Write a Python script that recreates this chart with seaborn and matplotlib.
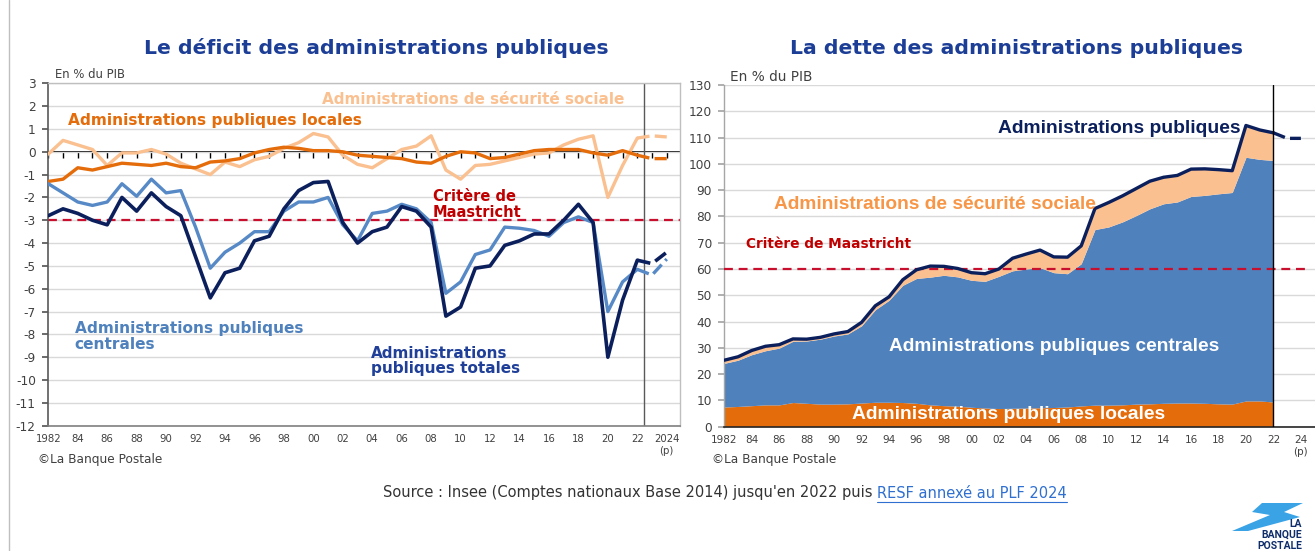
import numpy as np
import pandas as pd
import matplotlib
matplotlib.use("Agg")
import matplotlib.pyplot as plt
import seaborn as sns
from matplotlib.lines import Line2D
from matplotlib.patches import Polygon

# ---------------- DATA ----------------
years = list(range(1982, 2023))
proj_years = [2022, 2023, 2024]

# Deficit, % of GDP
def_total = [-2.8, -2.5, -2.7, -3.0, -3.2, -2.0, -2.6, -1.8, -2.4, -2.8,
             -4.6, -6.4, -5.3, -5.1, -3.9, -3.7, -2.5, -1.7, -1.35, -1.3,
             -3.1, -4.0, -3.5, -3.3, -2.4, -2.6, -3.3, -7.2, -6.8, -5.1,
             -5.0, -4.1, -3.9, -3.6, -3.6, -3.0, -2.3, -3.1, -9.0, -6.5, -4.75]
def_central = [-1.4, -1.8, -2.2, -2.35, -2.2, -1.4, -1.95, -1.2, -1.8, -1.7,
               -3.3, -5.1, -4.4, -4.0, -3.5, -3.5, -2.6, -2.2, -2.2, -2.0,
               -3.2, -3.9, -2.7, -2.6, -2.3, -2.5, -3.1, -6.2, -5.7, -4.5,
               -4.3, -3.3, -3.35, -3.45, -3.7, -3.1, -2.85, -3.1, -7.0, -5.7, -5.15]
def_secu = [-0.1, 0.5, 0.3, 0.1, -0.6, -0.05, -0.05, 0.1, -0.1, -0.5,
            -0.75, -1.0, -0.45, -0.65, -0.35, -0.2, 0.15, 0.4, 0.8, 0.65,
            -0.15, -0.55, -0.7, -0.3, 0.1, 0.25, 0.7, -0.8, -1.2, -0.6,
            -0.55, -0.4, -0.25, -0.1, -0.05, 0.3, 0.55, 0.7, -2.0, -0.6, 0.6]
def_local = [-1.3, -1.2, -0.7, -0.8, -0.65, -0.5, -0.55, -0.6, -0.5, -0.65,
             -0.7, -0.45, -0.4, -0.3, -0.05, 0.1, 0.2, 0.15, 0.05, 0.05,
             0.0, -0.15, -0.2, -0.25, -0.3, -0.45, -0.5, -0.2, 0.0, -0.05,
             -0.3, -0.25, -0.1, 0.05, 0.1, 0.1, 0.1, -0.05, -0.15, 0.05, -0.15]
proj_def_total = [-4.75, -4.9, -4.4]
proj_def_central = [-5.15, -5.4, -4.7]
proj_def_secu = [0.6, 0.7, 0.65]
proj_def_local = [-0.15, -0.3, -0.3]
maastricht_deficit = -3.0

# Debt, % of GDP (stacked components)
debt_local = [7.5, 7.7, 8.0, 8.3, 8.3, 9.2, 8.9, 8.6, 8.6, 8.7,
              9.0, 9.3, 9.3, 9.2, 8.9, 8.3, 8.0, 7.8, 7.4, 7.1,
              6.9, 7.0, 7.1, 7.2, 7.3, 7.5, 7.9, 8.2, 8.2, 8.3,
              8.6, 8.7, 8.9, 9.0, 9.0, 8.9, 8.7, 8.6, 9.8, 9.8, 9.4]
debt_central = [16.6, 17.6, 19.4, 20.6, 21.6, 23.3, 23.7, 24.7, 25.9, 26.6,
                29.4, 35.2, 38.8, 44.6, 47.5, 48.6, 49.6, 49.2, 48.3, 48.2,
                50.3, 52.3, 52.9, 53.3, 51.3, 50.7, 54.1, 66.8, 67.8, 69.6,
                71.7, 74.2, 75.9, 76.5, 78.6, 79.1, 79.9, 80.5, 92.7, 91.9, 91.9]
debt_secu = [1.2, 1.3, 1.6, 1.7, 1.3, 0.9, 0.7, 0.7, 0.8, 0.9,
             1.3, 1.5, 1.3, 2.1, 3.3, 4.2, 3.4, 3.2, 2.9, 2.9,
             2.8, 4.8, 5.7, 6.7, 6.0, 6.3, 6.8, 8.0, 9.3, 9.9,
             10.3, 10.5, 10.1, 10.1, 10.4, 10.1, 9.2, 8.3, 12.1, 11.2, 10.5]
debt_total = [25.3, 26.6, 29.0, 30.6, 31.2, 33.4, 33.3, 34.0, 35.3, 36.2,
              39.7, 46.0, 49.4, 55.9, 59.7, 61.1, 61.0, 60.2, 58.6, 58.2,
              60.0, 64.1, 65.7, 67.2, 64.6, 64.5, 68.8, 83.0, 85.3, 87.8,
              90.6, 93.4, 94.9, 95.6, 98.0, 98.1, 97.8, 97.4, 114.6, 112.9, 111.8]
proj_debt_total = [111.8, 109.7, 109.7]
maastricht_debt = 60

tick_years = list(range(1982, 2025, 2))
left_tick_labels = ["1982"] + [f"{y % 100:02d}" for y in tick_years[1:-1]] + ["2024\n(p)"]
right_tick_labels = ["1982"] + [f"{y % 100:02d}" for y in tick_years[1:-1]] + ["24\n(p)"]

# ---------------- STYLE ----------------
sns.set_theme(style="white")
plt.rcParams['font.family'] = ['DejaVu Sans']
plt.rcParams['axes.unicode_minus'] = False

NAVY = '#0B1F5C'
MIDBLUE = '#4F81BD'
LIGHTOR = '#FAC090'
DARKOR = '#E46C0A'
RED = '#C8102E'
TITLE = '#1C3E96'
GRAY = '#404040'
GRID = '#D9D9D9'

W, H = 1315, 551
fig = plt.figure(figsize=(W / 100, H / 100), dpi=100)
fig.patch.set_facecolor('white')

def fx(px):
    return px / W

def fy(py):
    return 1 - py / H

# ---------------- LEFT: deficit ----------------
axL = fig.add_axes([fx(48.3), fy(425.7), fx(680) - fx(48.3), fy(83.3) - fy(425.7)])
axL.set_xlim(1982, 2024.9)
axL.set_ylim(-12, 3)
axL.set_yticks(range(-12, 4))
axL.yaxis.grid(True, color=GRID, lw=1)
axL.xaxis.grid(False)
axL.set_axisbelow(True)
for s in ['top', 'right']:
    axL.spines[s].set_color('#BFBFBF')
    axL.spines[s].set_linewidth(1)
axL.spines['left'].set_color('#595959')
axL.spines['bottom'].set_color('#7F7F7F')
axL.spines['left'].set_linewidth(1.2)
axL.spines['bottom'].set_linewidth(1.2)
axL.set_xticks(tick_years)
axL.set_xticklabels(left_tick_labels)
axL.tick_params(axis='x', length=0, pad=6, labelsize=7.3, labelcolor=GRAY)
axL.tick_params(axis='y', length=4, direction='out', color='#595959', pad=5,
                labelsize=8.7, labelcolor=GRAY, left=True)

axL.axhline(maastricht_deficit, color=RED, lw=1.6, ls=(0, (4, 2.6)), zorder=2)
axL.axvline(2022.45, color='#595959', lw=1, zorder=2)

lw = 2.4
sns.lineplot(x=years, y=def_secu, ax=axL, color=LIGHTOR, lw=lw, zorder=3)
sns.lineplot(x=years, y=def_local, ax=axL, color=DARKOR, lw=lw, zorder=4)
sns.lineplot(x=years, y=def_central, ax=axL, color='#5689C6', lw=lw, zorder=5)
sns.lineplot(x=years, y=def_total, ax=axL, color=NAVY, lw=2.6, zorder=6)
sns.lineplot(x=proj_years, y=proj_def_secu, ax=axL, color=LIGHTOR, lw=lw, linestyle='--', zorder=3)
sns.lineplot(x=proj_years, y=proj_def_local, ax=axL, color=DARKOR, lw=lw, linestyle='--', zorder=4)
sns.lineplot(x=proj_years, y=proj_def_central, ax=axL, color='#5689C6', lw=lw, linestyle='--', zorder=5)
sns.lineplot(x=proj_years, y=proj_def_total, ax=axL, color=NAVY, lw=2.6, linestyle='--', zorder=6)
axL.set_xlabel('')
axL.set_ylabel('')

# zero axis with year ticks
sec = axL.secondary_xaxis(0.8)
sec.set_alignment('bottom')
sec.set_xticks(range(1982, 2025))
sec.set_xticklabels([])
sec.tick_params(axis='x', direction='out', length=4, width=1, color='black')
sec.spines['bottom'].set_color('black')
sec.spines['bottom'].set_linewidth(1.3)

tL = []
tL.append((axL.text(2000.6, 2.27, "Administrations de sécurité sociale", color=LIGHTOR,
                    fontweight='bold', fontsize=11, ha='left', va='center', zorder=7), 302))
tL.append((axL.text(1983.35, 1.35, "Administrations publiques locales", color=DARKOR,
                    fontweight='bold', fontsize=11, ha='left', va='center', zorder=7), 292))
tL.append((axL.text(2008.1, -2.3, "Critère de\nMaastricht", color='#C00000',
                    fontweight='bold', fontsize=9.5, ha='left', va='center', linespacing=1.1, zorder=7), 89))
tL.append((axL.text(1983.8, -8.08, "Administrations publiques\ncentrales", color='#4F81BD',
                    fontweight='bold', fontsize=11, ha='left', va='center', linespacing=1.05, zorder=7), 228))
tL.append((axL.text(2003.9, -9.17, "Administrations\npubliques totales", color='#1F3F99',
                    fontweight='bold', fontsize=11, ha='left', va='center', linespacing=1.05, zorder=7), 149))

# ---------------- RIGHT: debt ----------------
axR = fig.add_axes([fx(724.3), fy(426.7), fx(1314.6) - fx(724.3), fy(85) - fy(426.7)])
axR.set_xlim(1982, 2025)
axR.set_ylim(0, 130)
axR.set_yticks(range(0, 131, 10))
axR.yaxis.grid(True, color=GRID, lw=1)
axR.xaxis.grid(False)
axR.set_axisbelow(True)
for s in ['top', 'right']:
    axR.spines[s].set_visible(False)
axR.spines['left'].set_color('#A6A6A6')
axR.spines['left'].set_linewidth(1)
axR.spines['bottom'].set_color('#262626')
axR.spines['bottom'].set_linewidth(1.2)
axR.set_xticks(tick_years)
axR.set_xticklabels(right_tick_labels)
axR.tick_params(axis='x', length=0, pad=6, labelsize=7.5, labelcolor=GRAY)
axR.tick_params(axis='y', length=4, direction='out', color='#A6A6A6', pad=5,
                labelsize=8.7, labelcolor=GRAY, left=True)

loc = np.array(debt_local)
cen = np.array(debt_central)
ssec = np.array(debt_secu)
axR.fill_between(years, 0, loc, color=DARKOR, lw=0, zorder=2)
axR.fill_between(years, loc, loc + cen, color='#4F81BD', lw=0, zorder=2)
axR.fill_between(years, loc + cen, loc + cen + ssec, color=LIGHTOR, lw=0, zorder=2)
axR.axhline(maastricht_debt, xmax=0.984, color=RED, lw=1.6, ls=(0, (4, 2.6)), zorder=3)
sns.lineplot(x=years, y=debt_total, ax=axR, color=NAVY, lw=2.4, zorder=4)
sns.lineplot(x=proj_years, y=proj_debt_total, ax=axR, color=NAVY, lw=2.4, linestyle='--', zorder=4)
axR.axvline(2022, color='black', lw=1, zorder=5)
axR.set_xlabel('')
axR.set_ylabel('')

tR = []
tR.append((axR.text(2001.93, 113.6, "Administrations publiques", color=NAVY, family='Liberation Sans',
                    fontweight='bold', fontsize=12, ha='left', va='center', zorder=7), 241))
tR.append((axR.text(1985.6, 84.6, "Administrations de sécurité sociale", color='#F79646', family='Liberation Sans',
                    fontweight='bold', fontsize=12, ha='left', va='center', zorder=7), 320))
tR.append((axR.text(1983.6, 69.4, "Critère de Maastricht", color='#C00000',
                    fontweight='bold', fontsize=9.5, ha='left', va='center', zorder=7), 166))
tR.append((axR.text(1994.0, 30.6, "Administrations publiques centrales", color='white', family='Liberation Sans',
                    fontweight='bold', fontsize=12, ha='left', va='center', zorder=7), 329))
tR.append((axR.text(1991.3, 4.8, "Administrations publiques locales", color='white', family='Liberation Sans',
                    fontweight='bold', fontsize=12, ha='left', va='center', zorder=7), 311))

# ---------------- FIGURE TEXTS ----------------
tF = []
tF.append((fig.text(fx(376.5), fy(48), "Le déficit des administrations publiques", color=TITLE,
                    fontweight='bold', fontsize=13, ha='center', va='center'), 459))
tF.append((fig.text(fx(1017), fy(48), "La dette des administrations publiques", color=TITLE,
                    fontweight='bold', fontsize=13, ha='center', va='center'), 448))
tF.append((fig.text(fx(55), fy(75), "En % du PIB", color=GRAY, fontsize=8, ha='left', va='center'), 70))
tF.append((fig.text(fx(730), fy(77), "En % du PIB", color=GRAY, fontsize=8, ha='left', va='center'), 82))
tF.append((fig.text(fx(38), fy(459), "©La Banque Postale", color=GRAY, fontsize=8, ha='left', va='center'), 124))
tF.append((fig.text(fx(712), fy(460), "©La Banque Postale", color=GRAY, fontsize=8, ha='left', va='center'), 124))
src1 = fig.text(fx(383), fy(493), "Source : Insee (Comptes nationaux Base 2014) jusqu'en 2022 puis ",
                color='#333333', fontsize=9.5, ha='left', va='center')
src2 = fig.text(fx(875), fy(493), "RESF annexé au PLF 2024", color='#2E6FD0', fontsize=9.5,
                ha='left', va='center')

fig.canvas.draw()
r = fig.canvas.get_renderer()
for t, w in tL + tR + tF:
    bb = t.get_window_extent(r)
    t.set_fontsize(t.get_fontsize() * w / bb.width)

# fit source line to 687 px total
fig.canvas.draw()
w1 = src1.get_window_extent(r).width
w2 = src2.get_window_extent(r).width
k = 687 / (w1 + w2)
src1.set_fontsize(src1.get_fontsize() * k)
src2.set_fontsize(src2.get_fontsize() * k)
fig.canvas.draw()
b1 = src1.get_window_extent(r)
src2.set_x(fx(b1.x1))
fig.canvas.draw()
b2 = src2.get_window_extent(r)
fig.add_artist(Line2D([fx(b2.x0), fx(b2.x1)], [b2.y0 / H - 1.0 / H, b2.y0 / H - 1.0 / H],
                      transform=fig.transFigure, color='#2E6FD0', lw=0.8))

# page frame line on the left
fig.add_artist(Line2D([fx(9), fx(9)], [0, 1], transform=fig.transFigure, color='#BFBFBF', lw=1))

# logo
logo_pts = [(1262, 503), (1303, 503), (1284, 512), (1300, 517), (1248, 531), (1232, 531), (1270, 515), (1252, 512)]
fig.add_artist(Polygon([(fx(x), fy(y)) for x, y in logo_pts], closed=True, transform=fig.transFigure,
                       facecolor='#39A3E6', edgecolor='none'))
fig.text(fx(1302), fy(524), "LA", color='#0F2D6B', fontsize=7.5, fontweight='bold', ha='right', va='center',
         family='Roboto')
fig.text(fx(1302), fy(535), "BANQUE", color='#0F2D6B', fontsize=7.5, fontweight='bold', ha='right', va='center',
         family='Roboto')
fig.text(fx(1302), fy(546), "POSTALE", color='#0F2D6B', fontsize=7.5, fontweight='bold', ha='right', va='center',
         family='Roboto')

fig.savefig('out.png', dpi=100, facecolor='white')
